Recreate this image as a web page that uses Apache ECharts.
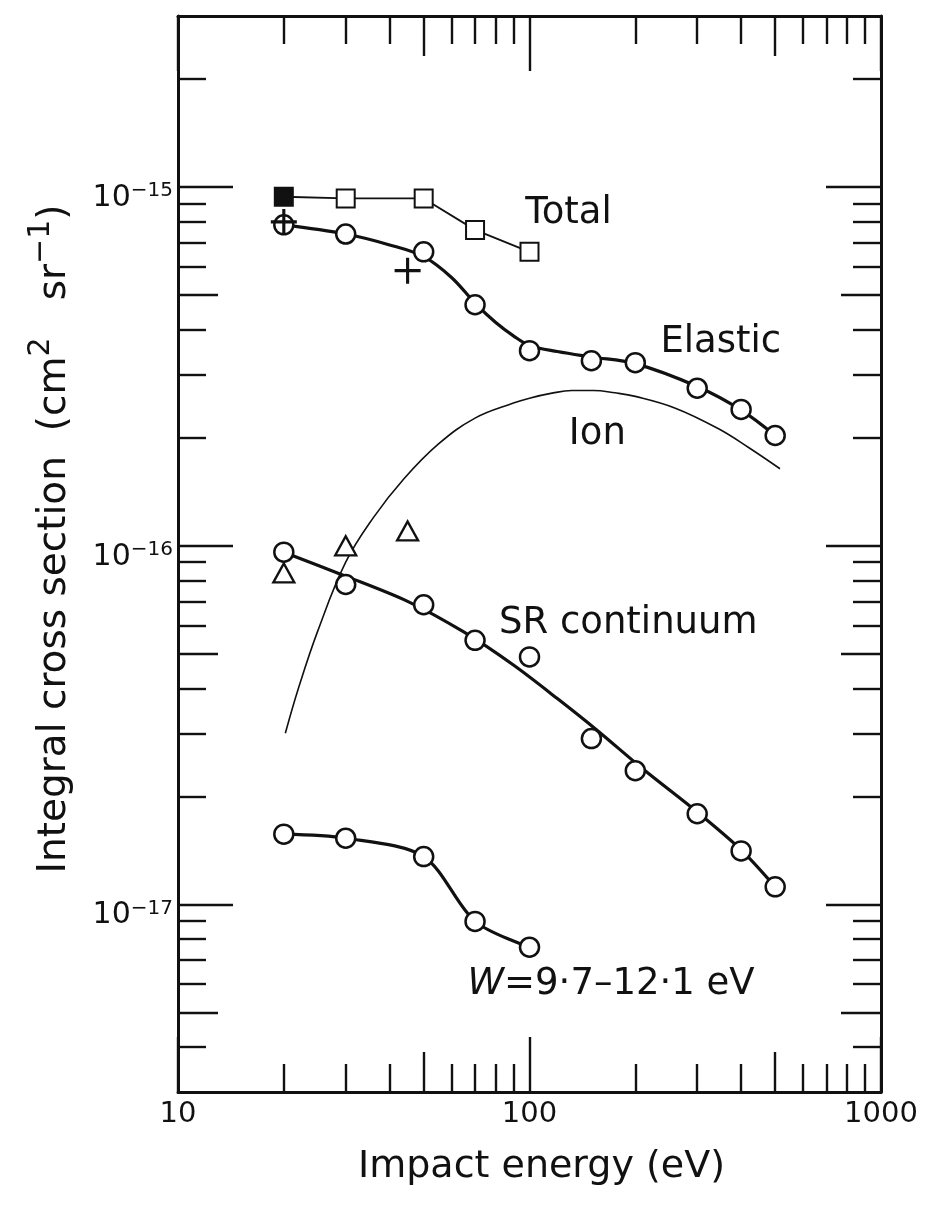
<!DOCTYPE html>
<html>
<head>
<meta charset="utf-8">
<script src="https://cdn.jsdelivr.net/npm/echarts@6/dist/echarts.min.js"></script>
<style>
  html, body { margin: 0; padding: 0; background: #ffffff; }
  #chart { width: 936px; height: 1209px; }
</style>
</head>
<body>
<div id="chart"></div>
<script>
// ---------------- data (impact energy in eV, cross sections in cm^2 sr^-1) ----------------
const totalEnergy = [20, 30, 50, 70, 100];
const totalXs     = [9.4e-16, 9.3e-16, 9.3e-16, 7.6e-16, 6.6e-16];

const elasticEnergy = [20, 30, 50, 70, 100, 150, 200, 300, 400, 500];
const elasticXs     = [7.85e-16, 7.4e-16, 6.6e-16, 4.7e-16, 3.5e-16, 3.28e-16, 3.24e-16, 2.75e-16, 2.4e-16, 2.03e-16];

const elasticFitEnergy = [20, 30, 40, 50, 60, 70, 80, 90, 100, 120, 150, 200, 300, 400, 500];
const elasticFitXs     = [7.85e-16, 7.4e-16, 6.9e-16, 6.4e-16, 5.6e-16, 4.75e-16, 4.2e-16, 3.85e-16, 3.62e-16, 3.48e-16, 3.36e-16, 3.22e-16, 2.78e-16, 2.39e-16, 2.03e-16];

const elasticCrossEnergy = [20, 45];
const elasticCrossXs     = [8.0e-16, 5.85e-16];

const ionEnergy = [20.2, 22, 25, 30, 36, 44, 55, 70, 90, 100, 115, 132, 152, 175, 200, 260, 345, 420, 516];
const ionXs     = [3.0e-17, 4.0e-17, 5.8e-17, 9.0e-17, 1.2e-16, 1.54e-16, 1.92e-16, 2.27e-16, 2.5e-16, 2.58e-16, 2.66e-16, 2.71e-16, 2.71e-16, 2.67e-16, 2.61e-16, 2.42e-16, 2.12e-16, 1.88e-16, 1.64e-16];

const srEnergy = [20, 30, 50, 70, 100, 150, 200, 300, 400, 500];
const srXs     = [9.6e-17, 7.8e-17, 6.85e-17, 5.45e-17, 4.9e-17, 2.9e-17, 2.36e-17, 1.79e-17, 1.41e-17, 1.12e-17];

const srFitEnergy = [20, 30, 45, 65, 90, 120, 155, 212, 300, 400, 500];
const srFitXs     = [9.6e-17, 8.23e-17, 7.0e-17, 5.75e-17, 4.65e-17, 3.75e-17, 3.07e-17, 2.37e-17, 1.81e-17, 1.42e-17, 1.12e-17];

const triangleEnergy = [20, 30, 45];
const triangleXs     = [8.4e-17, 1.0e-16, 1.1e-16];

const bandEnergy = [20, 30, 50, 70, 100];
const bandXs     = [1.57e-17, 1.53e-17, 1.36e-17, 8.97e-18, 7.6e-18];

// axis ranges and ticks
const X_MIN = 10, X_MAX = 1000;
const Y_MIN = 3e-18, Y_MAX = 3e-15;
const xTickLabels = [10, 100, 1000];
const xMajorTicks = [10, 100, 1000];
const xMidTicks   = [50, 500];
const xMinorTicks = [20, 30, 40, 60, 70, 80, 90, 200, 300, 400, 600, 700, 800, 900];
const yTickLabels = [1e-17, 1e-16, 1e-15];
const yMajorTicks = [1e-17, 1e-16, 1e-15];
const yMidTicks   = [5e-18, 5e-17, 5e-16];
const yMinorTicks = [4e-18, 6e-18, 7e-18, 8e-18, 9e-18,
                     2e-17, 3e-17, 4e-17, 6e-17, 7e-17, 8e-17, 9e-17,
                     2e-16, 3e-16, 4e-16, 6e-16, 7e-16, 8e-16, 9e-16,
                     2e-15];

// curve names written next to the curves
const curveNames = ['Total', 'Elastic', 'Ion', 'SR continuum', '{i|W}{t|=9·7–12·1 eV}'];
// anchors (energy, cross section) of the left end of each name
const curveNameAnchors = [[97, 8.45e-16], [235, 3.68e-16], [129, 2.05e-16], [81.6, 6.09e-17], [66.4, 5.98e-18]];

// ---------------- styling ----------------
const FONT = 'DejaVu Sans';
const INK = '#111111';
const zip = (xs, ys) => xs.map((x, i) => [x, ys[i]]);

function tickAxis(dim, position, values, length) {
  const base = {
    type: 'log', logBase: 10, position: position, gridIndex: 0,
    axisLine: { show: false, onZero: false },
    splitLine: { show: false },
    minorTick: { show: false },
    axisLabel: { show: false },
    axisTick: { show: true, inside: true, length: length, customValues: values,
                lineStyle: { color: INK, width: 2.4 } }
  };
  if (dim === 'x') { base.min = X_MIN; base.max = X_MAX; }
  else { base.min = Y_MIN; base.max = Y_MAX; }
  return base;
}

const LONG = 55, MID = 40, SHORT = 28;

const xAxes = [];
// bottom axis: frame line, labels, title
const xBottom = tickAxis('x', 'bottom', xMajorTicks, LONG);
xBottom.axisLine = { show: true, onZero: false, lineStyle: { color: INK, width: 3 } };
xBottom.axisLabel = {
  show: true, customValues: xTickLabels, margin: 8,
  formatter: v => String(Math.round(v)),
  fontFamily: FONT, fontSize: 29, color: INK
};
xBottom.name = 'Impact energy (eV)';
xBottom.nameLocation = 'middle';
xBottom.nameGap = 56;
xBottom.nameTextStyle = { fontFamily: FONT, fontSize: 38, color: INK, padding: [0, 0, 0, 24] };
xAxes.push(xBottom);
xAxes.push(tickAxis('x', 'bottom', xMidTicks, MID));
xAxes.push(tickAxis('x', 'bottom', xMinorTicks, SHORT));
// top axis: frame line with mirrored ticks
const xTop = tickAxis('x', 'top', xMajorTicks, LONG);
xTop.axisLine = { show: true, onZero: false, lineStyle: { color: INK, width: 3 } };
xAxes.push(xTop);
xAxes.push(tickAxis('x', 'top', xMidTicks, MID));
xAxes.push(tickAxis('x', 'top', xMinorTicks, SHORT));

const yAxes = [];
const yLeft = tickAxis('y', 'left', yMajorTicks, LONG);
yLeft.axisLine = { show: true, onZero: false, lineStyle: { color: INK, width: 3 } };
yLeft.axisLabel = {
  show: true, customValues: yTickLabels, margin: 5,
  padding: [20, 0, 0, 0],
  formatter: v => {
    const e = Math.round(Math.log10(v));
    return '{b|10}{s|' + (e < 0 ? '−' : '') + Math.abs(e) + '}';
  },
  rich: {
    b: { fontFamily: FONT, fontSize: 30, color: INK, lineHeight: 32, verticalAlign: 'bottom' },
    s: { fontFamily: FONT, fontSize: 20, color: INK, lineHeight: 32, verticalAlign: 'top' }
  }
};
yLeft.name = '{t|Integral cross section  (cm}{p|2}{t|   sr}{p|−1}{t|)}';
yLeft.nameLocation = 'middle';
yLeft.nameGap = 104;
yLeft.nameTextStyle = {
  padding: [0, 0, 0, 30],
  rich: {
    t: { fontFamily: FONT, fontSize: 39, color: INK, lineHeight: 48, verticalAlign: 'bottom' },
    p: { fontFamily: FONT, fontSize: 30, color: INK, lineHeight: 48, verticalAlign: 'top' }
  }
};
yAxes.push(yLeft);
yAxes.push(tickAxis('y', 'left', yMidTicks, MID));
yAxes.push(tickAxis('y', 'left', yMinorTicks, SHORT));
const yRight = tickAxis('y', 'right', yMajorTicks, LONG);
yRight.axisLine = { show: true, onZero: false, lineStyle: { color: INK, width: 3 } };
yAxes.push(yRight);
yAxes.push(tickAxis('y', 'right', yMidTicks, MID));
yAxes.push(tickAxis('y', 'right', yMinorTicks, SHORT));

const openMarker = { color: '#ffffff', borderColor: INK, borderWidth: 2.5, opacity: 1 };
const PLUS = 'path://M0,4.4H10V5.6H0Z M4.4,0H5.6V10H4.4Z';

// first total point is the filled square
const totalData = totalEnergy.map((e, i) =>
  i === 0 ? { value: [e, totalXs[i]], itemStyle: { color: INK, borderColor: INK } } : [e, totalXs[i]]);

const nameData = curveNames.map((n, i) => ({ value: curveNameAnchors[i], name: n }));

const option = {
  animation: false,
  backgroundColor: '#ffffff',
  grid: { left: 178, top: 16, width: 703, height: 1076, containLabel: false, outerBoundsMode: 'none' },
  xAxis: xAxes,
  yAxis: yAxes,
  series: [
    {
      name: 'Ion', type: 'line', data: zip(ionEnergy, ionXs),
      smooth: 0.4, symbol: 'none', z: 2,
      lineStyle: { color: INK, width: 1.6 }
    },
    {
      name: 'Total', type: 'line', data: totalData,
      symbol: 'rect', symbolSize: 18, z: 3,
      lineStyle: { color: INK, width: 1.8 },
      itemStyle: { color: '#ffffff', borderColor: INK, borderWidth: 2 }
    },
    {
      name: 'Elastic fit', type: 'line', data: zip(elasticFitEnergy, elasticFitXs),
      smooth: 0.35, symbol: 'none', z: 3,
      lineStyle: { color: INK, width: 3.2 }
    },
    {
      name: 'Elastic', type: 'scatter', data: zip(elasticEnergy, elasticXs),
      symbol: 'circle', symbolSize: 19, z: 5,
      itemStyle: openMarker
    },
    {
      name: 'Elastic (other)', type: 'scatter', data: zip(elasticCrossEnergy, elasticCrossXs),
      symbol: PLUS, symbolSize: 26, z: 6,
      itemStyle: { color: INK, opacity: 1 }
    },
    {
      name: 'SR continuum fit', type: 'line', data: zip(srFitEnergy, srFitXs),
      smooth: 0.3, symbol: 'none', z: 3,
      lineStyle: { color: INK, width: 3.2 }
    },
    {
      name: 'SR continuum', type: 'scatter', data: zip(srEnergy, srXs),
      symbol: 'circle', symbolSize: 19, z: 5,
      itemStyle: openMarker
    },
    {
      name: 'SR continuum (other)', type: 'scatter', data: zip(triangleEnergy, triangleXs),
      symbol: 'triangle', symbolSize: [21, 19], z: 5,
      itemStyle: { color: '#ffffff', borderColor: INK, borderWidth: 2.3, opacity: 1 }
    },
    {
      name: 'W band', type: 'line', data: zip(bandEnergy, bandXs),
      smooth: 0.3, symbol: 'circle', symbolSize: 19, z: 3,
      lineStyle: { color: INK, width: 3.2 },
      itemStyle: openMarker
    },
    {
      name: 'curve names', type: 'scatter', data: nameData,
      symbolSize: 1, itemStyle: { color: 'transparent', opacity: 1 }, z: 7, silent: true,
      label: {
        show: true, position: 'right', distance: 0,
        formatter: p => p.name,
        fontFamily: FONT, fontSize: 37, color: INK,
        rich: {
          i: { fontFamily: FONT, fontSize: 37, fontStyle: 'italic', color: INK },
          t: { fontFamily: FONT, fontSize: 37, color: INK }
        }
      }
    }
  ]
};

const chart = echarts.init(document.getElementById('chart'), null, { renderer: 'canvas' });
chart.setOption(option);
</script>
</body>
</html>
